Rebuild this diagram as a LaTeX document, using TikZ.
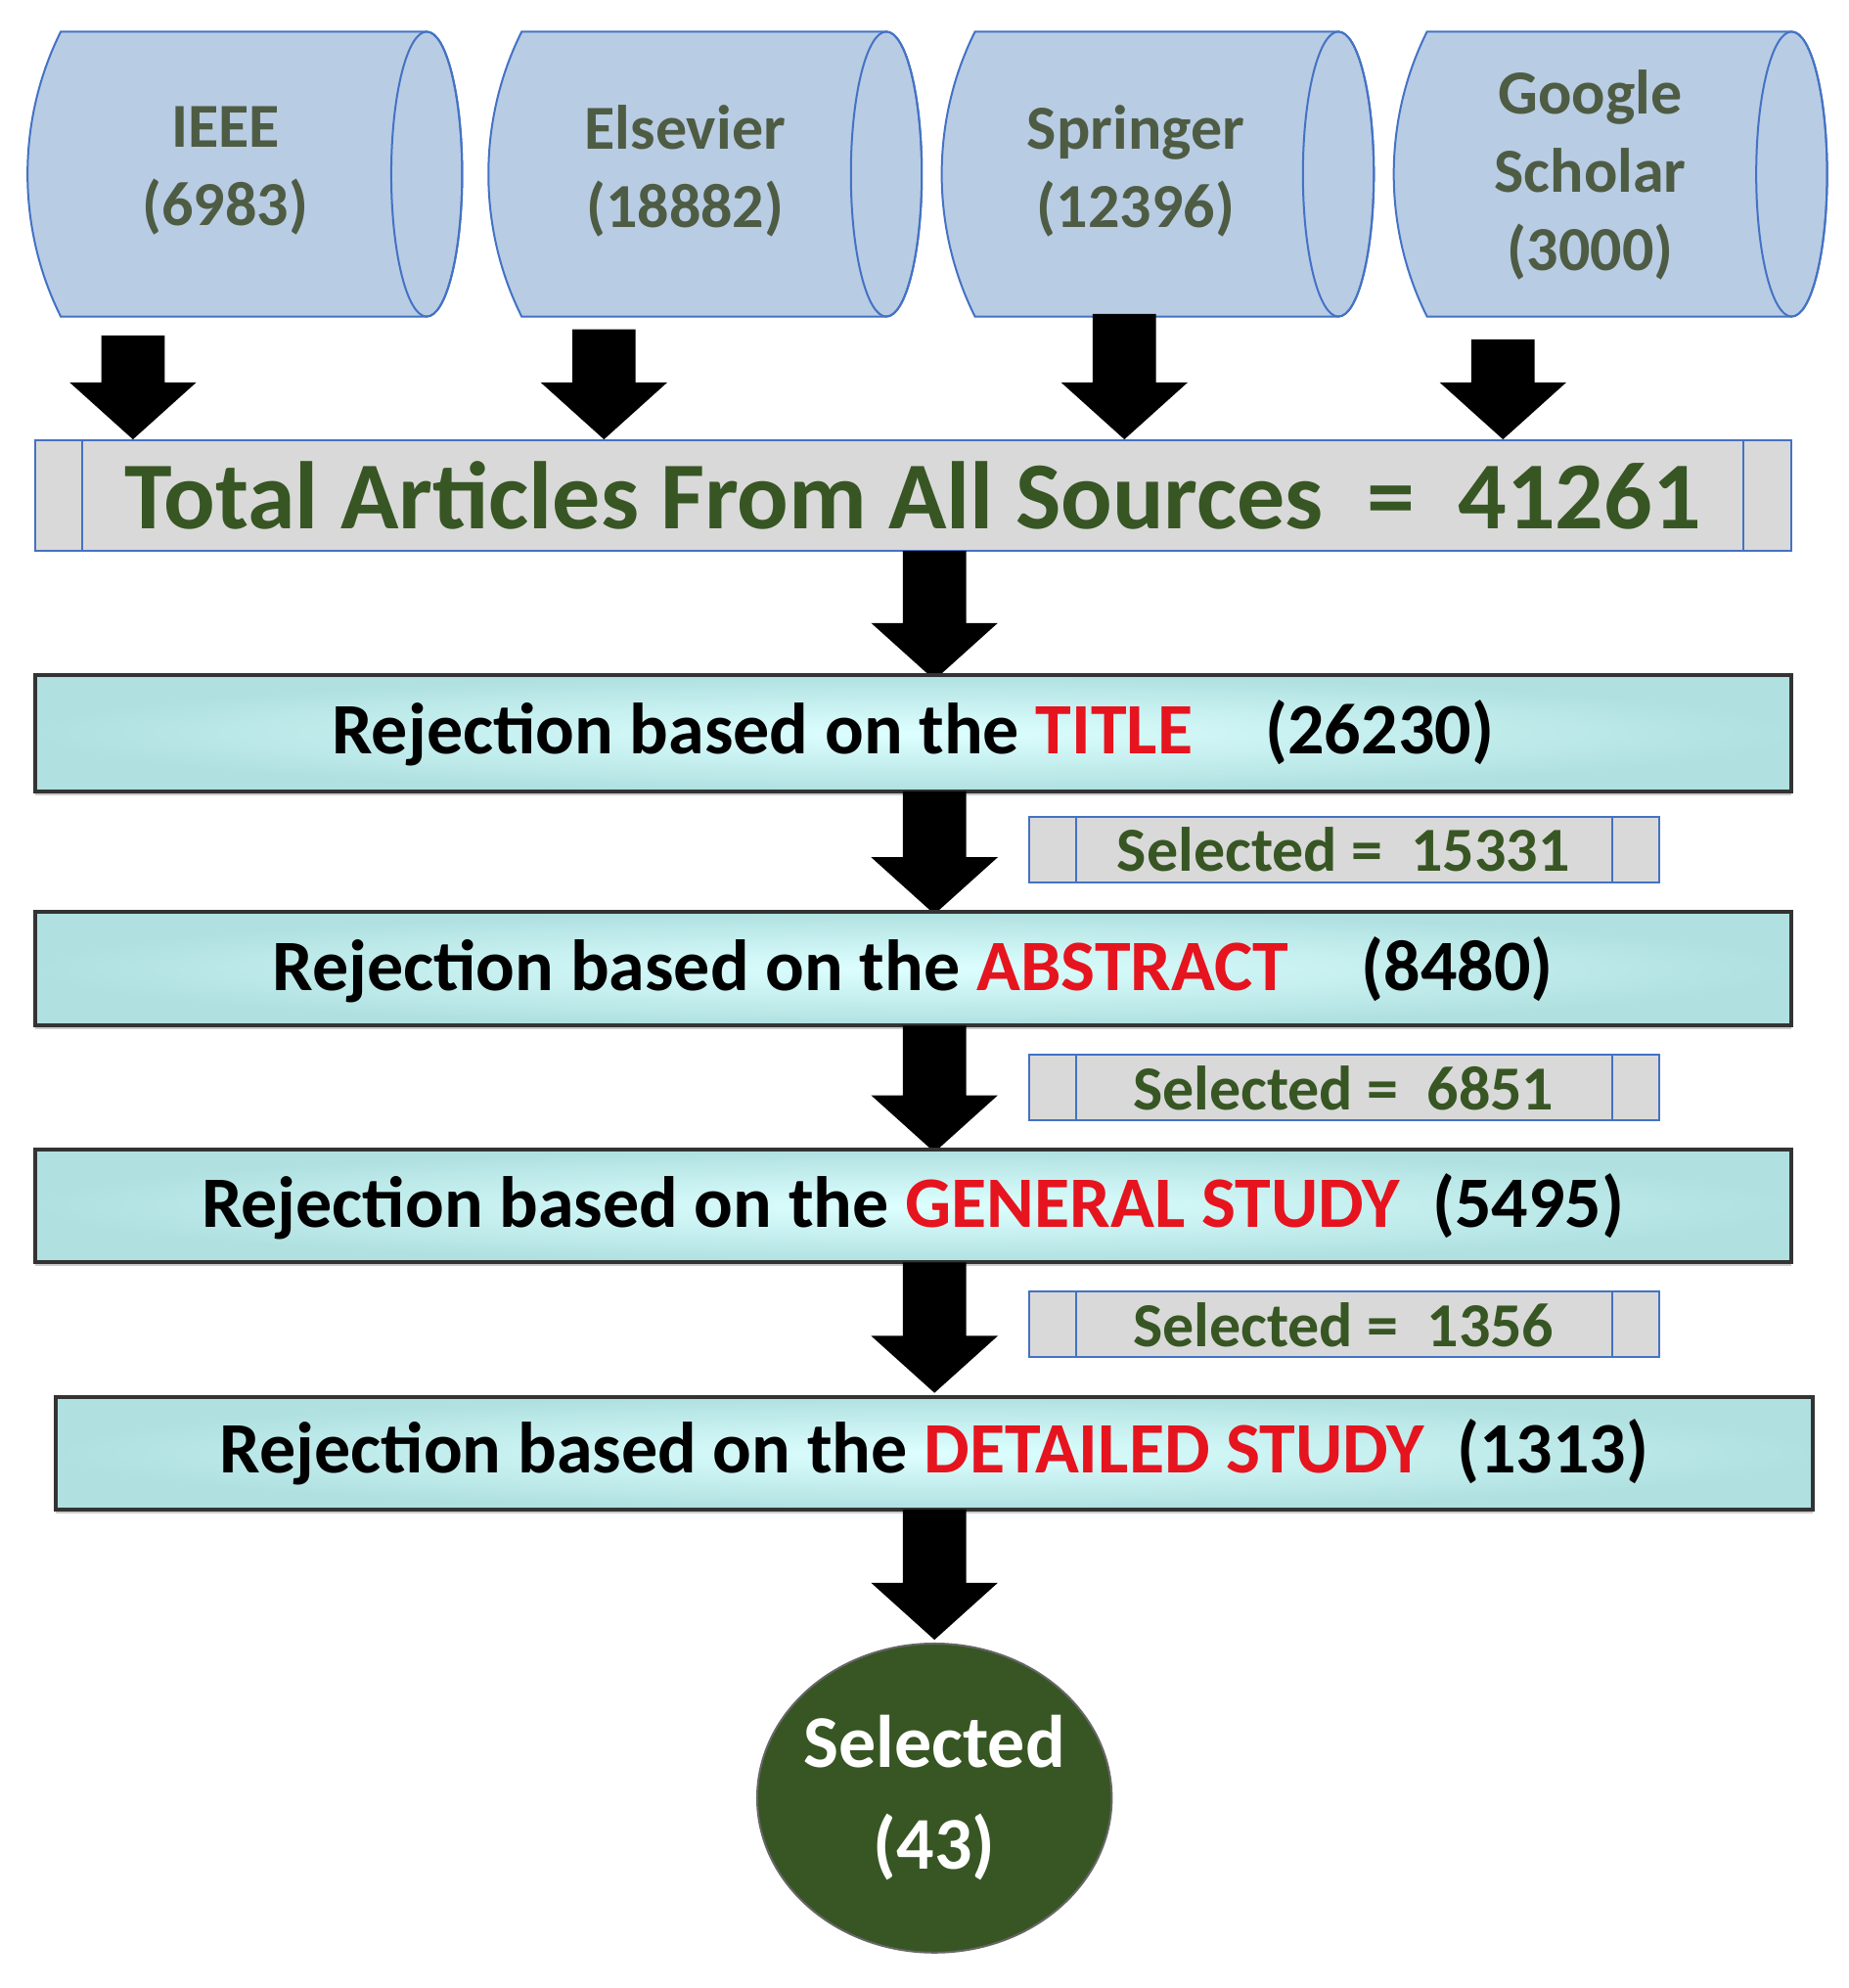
\documentclass[tikz,border=0pt]{standalone}
\usepackage{fontspec}
\setmainfont{Carlito}
\usetikzlibrary{shadows}
\definecolor{cylfill}{RGB}{184,204,228}
\definecolor{cylline}{RGB}{68,114,196}
\definecolor{gbox}{RGB}{217,217,217}
\definecolor{dgreen}{RGB}{55,86,35}
\definecolor{cyanf}{RGB}{200,255,255}
\definecolor{redt}{RGB}{230,20,30}
\tikzset{
 cyl/.style={fill=cylfill,draw=cylline,line width=1pt},
 cyltext/.style={font=\bfseries\fontsize{32}{40}\selectfont,text=dgreen!60!black!80,align=center},
 barr/.style={fill=black},
 rej/.style={draw=black!80,line width=2pt,inner color=cyanf!60!white,outer color=cyanf!88!black,drop shadow={shadow xshift=0pt,shadow yshift=-2pt,opacity=.4}},
 rejtext/.style={font=\bfseries\fontsize{37}{42}\selectfont},
 sel/.style={fill=gbox,draw=cylline,line width=1pt},
 seltext/.style={font=\bfseries\fontsize{32}{36}\selectfont,text=dgreen},
}
\newcommand{\blockarrow}[3]{% x, ytop, ybottom
 \fill[barr] (#1-25,#2) -- (#1+25,#2) -- (#1+25,#3-45) -- (#1+50,#3-45) -- (#1,#3) -- (#1-50,#3-45) -- (#1-25,#3-45) -- cycle;}
\newcommand{\cylinder}[2]{% x0, x1
 \path[cyl] (#1+30,25) -- (#2-28,25) arc[start angle=-90,end angle=90,x radius=28,y radius=112.5] -- (#1+30,250) .. controls (#1-5,180) and (#1-5,95) .. (#1+30,25) -- cycle;
 \draw[cylline,line width=1pt] (#2-28,137.5) ellipse[x radius=28,y radius=112.5];
}
\newcommand{\selbox}[4]{% ytop, ybot, name, text
 \path[sel] (813,#1) rectangle (1310,#2);
 \draw[cylline,line width=1pt] (850,#1) -- (850,#2) (1273,#1) -- (1273,#2);
 \node[seltext] (#3) at (1061,{(#1+#2)/2}) {#4};
}
\begin{document}
\begin{tikzpicture}[x=0.647pt,y=-0.647pt]
\useasboundingbox (0,0) rectangle (1460,1570);
\fill[white] (0,0) rectangle (1460,1570);
% cylinders
\cylinder{18}{365}
\node[cyltext] (ieee) at (178,135) {IEEE\\(6983)};
\cylinder{382}{728}
\node[cyltext] (els) at (541,135) {Elsevier\\(18882)};
\cylinder{740}{1085}
\node[cyltext] (spr) at (897,135) {Springer\\(12396)};
\cylinder{1097}{1443}
\node[cyltext] (gs) at (1256,138) {Google\\Scholar\\(3000)};
% arrows to total
\blockarrow{105}{265}{347}
\blockarrow{477}{260}{347}
\blockarrow{888}{248}{347}
\blockarrow{1187}{268}{347}
% total
\path[sel] (28,348) rectangle (1415,435);
\draw[cylline,line width=1pt] (65,348) -- (65,435) (1377,348) -- (1377,435);
\node[font=\bfseries\fontsize{49}{56}\selectfont,text=dgreen] (total) at (721,391) {Total Articles From All Sources\ \ =\ \ 41261};
% rejection boxes
\blockarrow{738}{435}{537}
\path[rej] (28,533) rectangle (1415,625);
\node[rejtext] (r1) at (721,579) {Rejection based on the \textcolor{redt}{TITLE}\quad (26230)};
\blockarrow{738}{625}{722}
\selbox{645}{697}{s1}{Selected =\ \ 15331}
\path[rej] (28,720) rectangle (1415,810);
\node[rejtext] (r2) at (721,766) {Rejection based on the \textcolor{redt}{ABSTRACT}\quad (8480)};
\blockarrow{738}{810}{910}
\selbox{833}{885}{s2}{Selected =\ \ 6851}
\path[rej] (28,908) rectangle (1415,997);
\node[rejtext] (r3) at (721,953) {Rejection based on the \textcolor{redt}{GENERAL STUDY}\ \ (5495)};
\blockarrow{738}{997}{1100}
\selbox{1020}{1072}{s3}{Selected =\ \ 1356}
\path[rej] (44,1103) rectangle (1432,1192);
\node[rejtext] (r4) at (738,1147) {Rejection based on the \textcolor{redt}{DETAILED STUDY}\ \ (1313)};
\blockarrow{738}{1192}{1295}
% final
\fill[dgreen,draw=black!60,line width=1pt] (738,1420) ellipse[x radius=140,y radius=122];
\node[font=\bfseries\fontsize{38}{52}\selectfont,text=white,align=center] (fin) at (738,1420) {Selected\\(43)};
\end{tikzpicture}
\end{document}
